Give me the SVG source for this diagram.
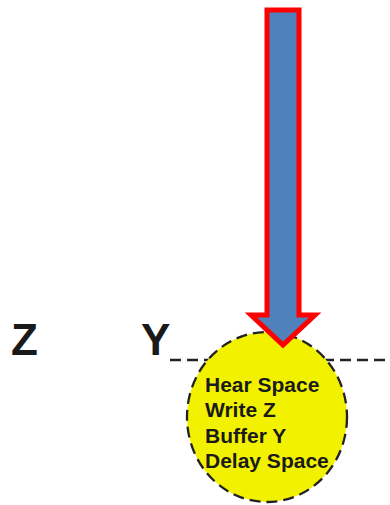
<svg xmlns="http://www.w3.org/2000/svg" width="390" height="505" viewBox="0 0 390 505">
<style>
.lbl{font-family:"Liberation Sans",Arial,sans-serif;font-weight:bold;fill:#1a1a1a}
.big{font-size:44px}
.small{font-size:21px}
.dash{stroke:#222;stroke-width:2.3;stroke-dasharray:11 6;fill:none}
</style>
<rect width="390" height="505" fill="#fff"/>
<g id="labels">
<text class="lbl big" x="11" y="355">Z</text>
<text class="lbl big" x="141" y="355">Y</text>
</g>
<g id="connectors">
<line class="dash" x1="170" y1="360" x2="390" y2="360"/>
</g>
<g id="node">
<ellipse cx="267" cy="417" rx="80" ry="85" class="dash" style="fill:#f2f200"/>
<text class="lbl small" x="205" y="392">Hear Space</text>
<text class="lbl small" x="205" y="417">Write Z</text>
<text class="lbl small" x="205" y="443">Buffer Y</text>
<text class="lbl small" x="205" y="468">Delay Space</text>
</g>
<g id="arrow">
<polygon points="267,10 299,10 299,315 315,315 283,345 251,315 267,315" fill="#4f81bd" stroke="#ff0000" stroke-width="5" stroke-miterlimit="10"/>
</g>
</svg>
